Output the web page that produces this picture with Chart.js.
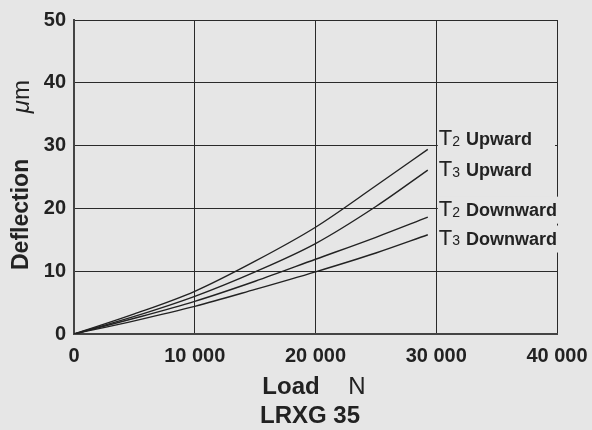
<!DOCTYPE html>
<html>
<head>
<meta charset="utf-8">
<script src="https://cdn.jsdelivr.net/npm/chart.js@4"></script>
<style>
  html, body { margin: 0; padding: 0; background: #e6e6e6; }
  #wrap { width: 592px; height: 430px; }
</style>
</head>
<body>
<div id="wrap"><canvas id="myChart" width="592" height="430"></canvas></div>
<script>
const loads = [0, 5000, 10000, 15000, 20000, 25000, 29300];
const t2Up = [0, 3.2, 6.8, 11.6, 17.0, 23.6, 29.4];
const t3Up = [0, 2.8, 6.0, 9.9, 14.4, 20.3, 26.1];
const t2Down = [0, 2.5, 5.2, 8.4, 11.9, 15.4, 18.6];
const t3Down = [0, 2.1, 4.4, 7.1, 9.9, 12.9, 15.8];

const seriesSub = ['2', '3', '2', '3'];
const seriesWord = ['Upward', 'Upward', 'Downward', 'Downward'];
const labelY = [31.0, 26.1, 19.8, 15.2];   // vertical position of each curve label (µm)

const xTicks = [0, 10000, 20000, 30000, 40000];
const yTicks = [0, 10, 20, 30, 40, 50];

const FONT = '"Liberation Sans", Arial, Helvetica, sans-serif';
const INK = '#222';
const BG = '#e6e6e6';

function pts(ys) {
    return loads.map((x, i) => ({ x: x, y: ys[i] }));
}

const allSeries = [t2Up, t3Up, t2Down, t3Down];

// labels at the end of the curves + axis titles
const labelsPlugin = {
    id: 'labelsPlugin',
    afterDraw(chart) {
        const ctx = chart.ctx;
        const xs = chart.scales.x, ys = chart.scales.y;
        const ca = chart.chartArea;
        ctx.save();
        ctx.textBaseline = 'middle';
        ctx.textAlign = 'left';

        // curve labels
        const x0 = xs.getPixelForValue(loads[loads.length - 1]) + 11;
        for (let i = 0; i < allSeries.length; i++) {
            const yc = ys.getPixelForValue(labelY[i]);
            ctx.font = '22px ' + FONT;
            const wT = ctx.measureText('T').width;
            ctx.font = '14px ' + FONT;
            const wS = ctx.measureText(seriesSub[i]).width;
            ctx.font = 'bold 18px ' + FONT;
            const wW = ctx.measureText(seriesWord[i]).width;
            const end = Math.max(x0 + wT + wS + 6 + wW + 3, ca.right - 2);
            ctx.fillStyle = BG;
            ctx.fillRect(x0 - 1, yc - 13, end - x0 + 1, 27);
            ctx.fillStyle = INK;
            ctx.font = '22px ' + FONT;
            ctx.fillText('T', x0, yc);
            ctx.font = '14px ' + FONT;
            ctx.fillText(seriesSub[i], x0 + wT, yc + 3);
            ctx.font = 'bold 18px ' + FONT;
            ctx.fillText(seriesWord[i], x0 + wT + wS + 6, yc + 1);
        }

        // y axis title
        ctx.save();
        ctx.translate(22, 0);
        ctx.rotate(-Math.PI / 2);
        ctx.fillStyle = INK;
        ctx.textAlign = 'left';
        ctx.font = 'bold 23px ' + FONT;
        ctx.fillText('Deflection', -270, 0);
        ctx.textAlign = 'right';
        ctx.font = '24px ' + FONT;
        const wM = ctx.measureText('m').width;
        ctx.fillText('m', -80, 0);
        ctx.font = 'italic 24px ' + FONT;
        ctx.fillText('\u03bc', -80 - wM, 0);
        ctx.restore();

        // x axis title + model
        ctx.fillStyle = INK;
        ctx.textAlign = 'center';
        ctx.font = 'bold 24px ' + FONT;
        ctx.fillText('Load', 291, 387);
        ctx.font = '24px ' + FONT;
        ctx.fillText('N', 357, 387);
        ctx.font = 'bold 24px ' + FONT;
        ctx.fillText('LRXG 35', 310, 416);
        ctx.restore();
    }
};

const mk = (data) => ({
    data: pts(data),
    borderColor: INK,
    borderWidth: 1.4,
    pointRadius: 0,
    fill: false,
    cubicInterpolationMode: 'monotone'
});

new Chart(document.getElementById('myChart'), {
    type: 'line',
    data: {
        datasets: [mk(t2Up), mk(t3Up), mk(t2Down), mk(t3Down)]
    },
    options: {
        responsive: false,
        animation: false,
        layout: { padding: { top: 18, right: 0, left: 0, bottom: 0 } },
        plugins: {
            legend: { display: false },
            tooltip: { enabled: false }
        },
        scales: {
            x: {
                type: 'linear',
                min: 0,
                max: 40000,
                afterBuildTicks: (s) => { s.ticks = xTicks.map(v => ({ value: v })); },
                afterFit: (s) => { s.height = 96; s.paddingLeft = 0; s.paddingRight = 35; },
                ticks: {
                    color: INK,
                    padding: 10,
                    maxRotation: 0,
                    font: { family: FONT, size: 20, weight: 'bold' },
                    callback: (v) => v === 0 ? '0' : String(v).replace(/\B(?=(\d{3})+(?!\d))/g, ' ')
                },
                grid: { color: '#2a2a2a', lineWidth: 1, drawTicks: false },
                border: { color: '#444', width: 2 }
            },
            y: {
                min: 0,
                max: 50,
                afterBuildTicks: (s) => { s.ticks = yTicks.map(v => ({ value: v })); },
                afterFit: (s) => { s.width = 74; },
                ticks: {
                    color: INK,
                    padding: 8,
                    font: { family: FONT, size: 20, weight: 'bold' }
                },
                grid: { color: '#2a2a2a', lineWidth: 1, drawTicks: false },
                border: { color: '#444', width: 2 }
            }
        }
    },
    plugins: [labelsPlugin]
});
</script>
</body>
</html>
